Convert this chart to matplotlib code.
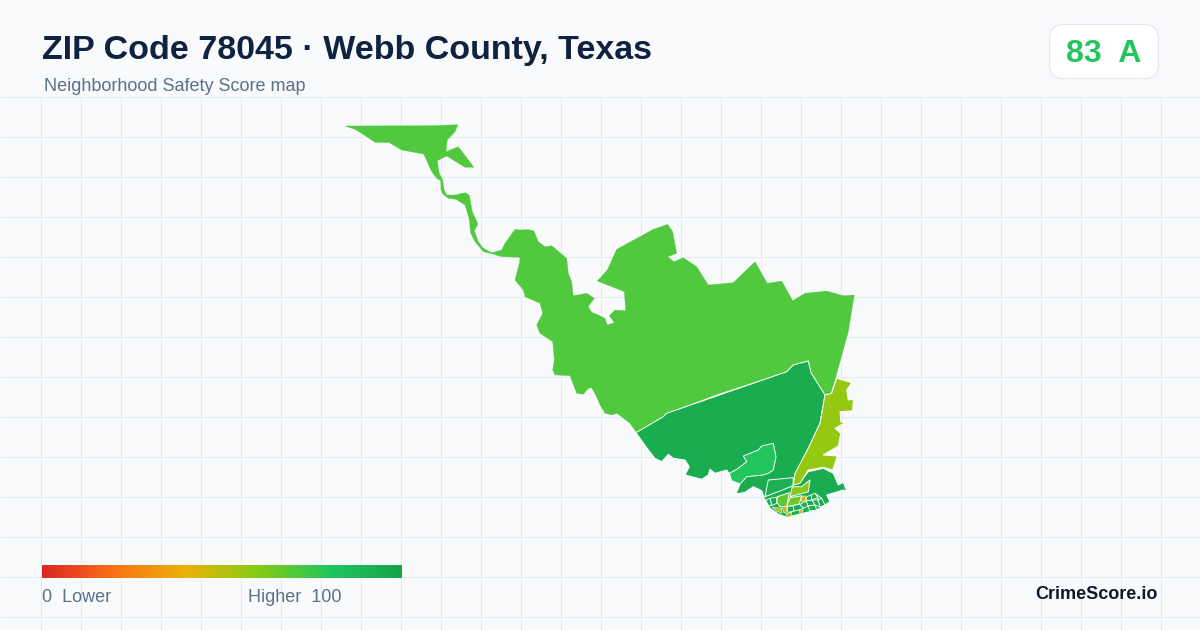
import numpy as np
import matplotlib
matplotlib.use("Agg")
import matplotlib.pyplot as plt
from matplotlib.colors import LinearSegmentedColormap
from matplotlib.patches import FancyBboxPatch, Polygon

plt.rcParams['font.family'] = ['Liberation Sans', 'DejaVu Sans']

TITLE = "ZIP Code 78045 · Webb County, Texas"
SUBTITLE = "Neighborhood Safety Score map"
SCORE = "83  A"
BRAND = "CrimeScore.io"
LEGEND_LOW = "0  Lower"
LEGEND_HIGH = "Higher  100"
LEGEND_STOPS = ["#dc2626", "#f97316", "#eab308", "#84cc16", "#22c55e", "#16a34a"]

zip_78045 = [(345,126),(431.7,125.7),(458,124.7),(455,131.7),(447.3,140),(446,151.7),(458.3,146.7),(474,167.3),(465,167.3),
    (446.7,156),(437.3,160.7),(439.3,173.3),(442.7,180),(444,189.3),(446.7,195),(455,195),(465,192.7),(469.3,195),
    (472.3,211.7),(478,224),(474.3,230.7),(478.3,241.7),(483.3,248.3),(491.7,252.7),(501.7,250),(505,243.3),(515,229.3),
    (520,230),(528,229.5),(534,231),(538.3,241.7),(545,246.7),(551.7,245.7),(566.7,258.3),(568.3,273.3),(571.7,281.7),
    (573.3,295.7),(586.7,293.3),(594.3,298.3),(588.3,306.7),(591.7,312.3),(598.3,315),(605,318.3),(607.3,325),(614.3,322.7),
    (609.3,315.7),(615,310),(625.7,310.7),(624.3,291.7),(597.3,281),(607.3,270),(616.7,249.3),
    (653.3,229.3),(667.7,224.3),(672.7,231.7),(676.7,253.3),(667.7,256.7),(674,261.7),(683.3,257.7),(696.7,266.7),
    (708.3,285),(733.3,282.7),(755,261.7),(767.3,283.3),(781.7,281),(792.7,300.7),(805,293.3),(826.7,291),(843.3,295.7),
    (854.3,295),(848.3,331.7),(835,380),(830.7,393.3),(825.7,396),(811.7,373.3),(808.3,360.7),(791.7,366),(786.7,371.7),
    (720,393.3),(666.7,413.3),(660,421.7),(636.7,432.7),(630,423.3),(617,413.3),(611.7,415),(605,413.3),(600,405),
    (597.3,398.3),(591.7,387.7),(588.3,388.3),(583.3,394.3),(576.7,393.3),(570,375.7),(555,375),(552.7,370),(554.3,360),
    (552.7,341.7),(540,333.3),(536.7,325),(542.7,313.3),(540,303.3),(525,296.7),(523.3,290),(515,280),(519.3,263.3),
    (520,257.3),(501.7,256.7),(492.7,254),(483.3,251.7),(475,241.7),(470.7,233.3),(469,218.3),(465,205),(456,199.3),
    (448.3,198.3),(442.7,194),(441,189.3),(440.7,180.7),(436.7,178.3),(431.7,171.7),(425,156.7),(423.3,154),(401.7,150),
    (389.3,142.7),(375,142.3),(366.7,136.7),(355,129.3)]

south_rural = [(636,432.7),(663.3,416.7),(666.7,413.3),(786.7,371.7),(793.3,365),(808.3,361),(811,372.7),(825,395),(820,423.3),
    (808.3,448.3),(795,475),(793.3,485),(801.7,480),(808.3,471.7),(823.3,468.3),(833.3,473.3),(838.3,485),(843.3,482.3),
    (846.7,491),(843.3,490),(826.7,495),(830,501.7),(816.7,510),(800,514),(786.7,517.3),(778.3,514),(770,508.3),(765,500),
    (761.7,490.7),(753.3,486.7),(745,492.3),(736,494),(740,484),(731.7,480.7),(730,475),(726.7,470),(715,473.3),(710,469.3),
    (708.3,475),(701.7,479.3),(685,475),(689.3,466.7),(685,460),(673.3,458.3),(668.3,454.3),(661.7,461.7),(655,458.3),(648.3,450)]

west_tract = [(729.3,473.3),(736.7,469.3),(746.7,461.7),(743.3,456),(758.3,450),(761.7,446),(773.3,443.3),(776,456.7),(773.3,470),
    (768.3,473.3),(763.3,475),(746.7,476.7),(740,484),(731.7,480.7)]

east_strip = [(836.7,378.3),(851.7,382.7),(846.7,390),(848.3,400),(853.3,399.3),(852.7,410.7),(840,411.7),(840.7,421.7),(845,422.7),
    (835,428.3),(840.7,433.3),(838.3,446),(823.3,455),(837.3,456),(832.7,470),(823.3,467.3),(808.3,470),(800,483.3),(793.3,485),
    (795,473.3),(808.3,448.3),(820,423.3),(825,395),(831.7,393.3)]

north_band = [(768.3,480),(793.3,477.7),(793,485.7),(780,491),(765,496.7)]
lime_tract = [(792.3,486.7),(801.7,486.7),(810,480),(808.3,491.7),(790,496.7)]
green_tract = [(777.3,496.7),(789.3,492.7),(786.7,506.7),(780,506.7),(776.7,502)]
mid_tract = [(790,497.7),(801.7,495.7),(799.3,504),(786.5,507)]

city_cells = [
    [(770,498.3),(776.7,497.3),(776.7,503.3),(771.7,505.7)],
    [(766,500),(770,498.3),(771.7,505.7),(768,505)],
    [(806.7,496.7),(811,495),(812,500),(806,501)],
    [(811,495),(815,493.3),(818,497.5),(812,500)],
    [(815,493.3),(821.7,498.3),(818,500),(818,497.5)],
    [(818,500),(821.7,498.3),(825,505),(820,507)],
    [(806,501),(812,500),(815,505),(808,506)],
    [(812,500),(818,500),(820,507),(815,505)],
    [(808,506),(815,505),(816.7,510),(810,511)],
    [(800,504.3),(806,501),(808,506),(803.3,508.3)],
    [(787,507),(793,505.5),(794,511),(788,512.5)],
    [(793,505.5),(800,504.3),(803.3,508.3),(799,510),(794,511)],
]

lime_small = [[(772.3,507.3),(781.7,508.3),(781.7,513.3),(776.5,511)],
              [(786.7,513.3),(791.7,512.3),(790.7,516.7),(786.7,517.3)]]
amber_small = [[(782.7,506.7),(786.7,506),(786,513.3),(783.3,512.3)],
               [(799.3,510),(803.3,510),(801.7,514),(800,513.3)],
               [(801.7,496.7),(805,495.7),(806,500),(801.7,501.7)]]

REGIONS = [(south_rural, "#1aad50"), (west_tract, "#22c55e"), (east_strip, "#95c911"),
           (north_band, "#1cb052"), (lime_tract, "#86c91c"), (green_tract, "#62c832"),
           (mid_tract, "#72c82a")]

fig = plt.figure(figsize=(12, 6.3), dpi=100, facecolor="#f8fafc")
ax = fig.add_axes([0, 0, 1, 1])
ax.set_xlim(0, 1200)
ax.set_ylim(630, 0)
ax.axis("off")

ax.vlines(np.arange(40.5, 1200, 40), 97, 630, color="#e4ecf1", lw=0.72, zorder=1)
ax.hlines(np.arange(96.5, 630, 40), 0, 1200, color="#e4ecf1", lw=0.72, zorder=1)

ax.add_patch(Polygon(zip_78045, closed=True, facecolor="#50c93f", edgecolor="#50c93f", lw=0.2, zorder=2))
for pts, col in REGIONS:
    ax.add_patch(Polygon(pts, closed=True, facecolor=col, edgecolor="white", lw=0.7, zorder=3, joinstyle="round"))
for pts in city_cells:
    ax.add_patch(Polygon(pts, closed=True, facecolor="#1aad50", edgecolor="white", lw=0.6, zorder=4))
for pts in lime_small:
    ax.add_patch(Polygon(pts, closed=True, facecolor="#a5c512", edgecolor="white", lw=0.4, zorder=5))
for pts in amber_small:
    ax.add_patch(Polygon(pts, closed=True, facecolor="#d2b214", edgecolor="white", lw=0.4, zorder=5))

ax.text(42, 59, TITLE, fontsize=24.5, fontweight="bold", color="#0f2340", va="baseline", ha="left", zorder=6)
ax.text(44, 91, SUBTITLE, fontsize=12.95, color="#5b708c", va="baseline", ha="left", zorder=6)

ax.add_patch(FancyBboxPatch((1049.5+14, 24.5+14), 109-28, 54-28, boxstyle="round,pad=14,rounding_size=14",
                            facecolor="white", edgecolor="#e2e8f0", lw=0.9, zorder=5))
ax.text(1104, 62, SCORE, fontsize=23, fontweight="bold", color="#22c55e", va="baseline", ha="center", zorder=6)

cmap = LinearSegmentedColormap.from_list("score", LEGEND_STOPS)
ax.imshow(np.linspace(0, 1, 360)[None, :], cmap=cmap, extent=(42, 402, 578, 565), aspect="auto", zorder=5)
ax.set_xlim(0, 1200)
ax.set_ylim(630, 0)

ax.text(42, 602, LEGEND_LOW, fontsize=12.95, color="#5b708c", va="baseline", ha="left", zorder=6)
ax.text(341.5, 602, LEGEND_HIGH, fontsize=12.95, color="#5b708c", va="baseline", ha="right", zorder=6)
ax.text(1158, 599, BRAND, fontsize=13, fontweight="bold", color="#0f172a", va="baseline", ha="right", zorder=6)

fig.savefig("out.png", dpi=100, facecolor=fig.get_facecolor())
